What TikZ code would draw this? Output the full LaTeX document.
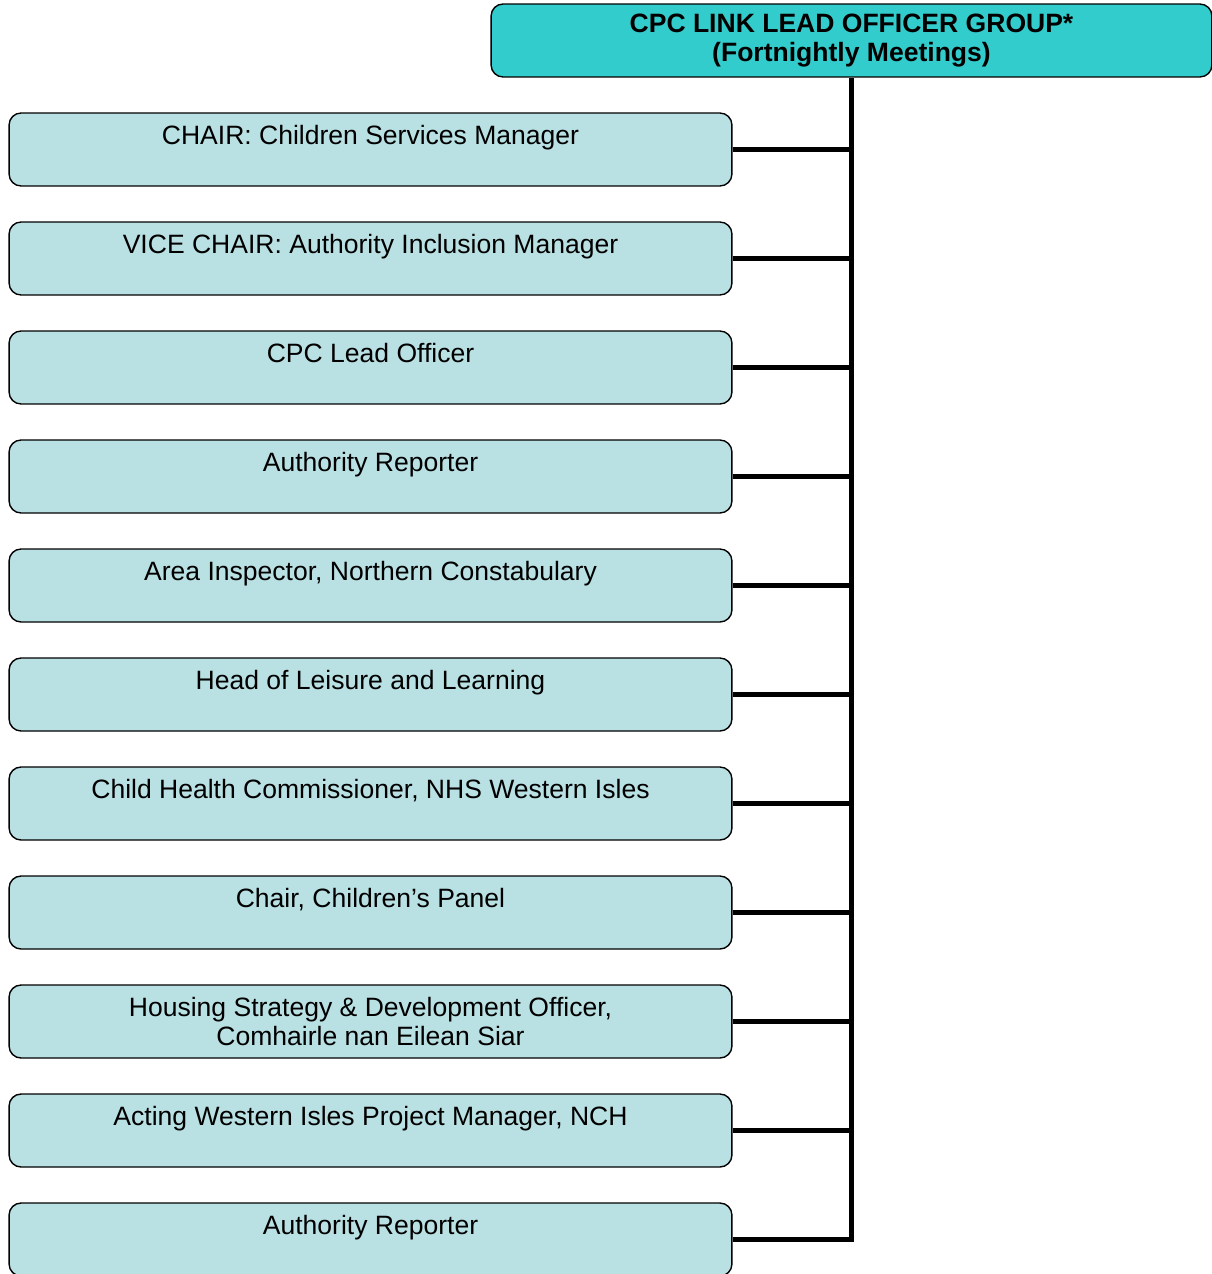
\documentclass[tikz,border=0pt]{standalone}
\usepackage{fontspec}
\setmainfont{Liberation Sans}
\definecolor{headfill}{RGB}{51,204,204}
\definecolor{memberfill}{RGB}{185,224,227}

\tikzset{
    member/.style={draw=black, line width=0.8pt, fill=memberfill, rounded corners=0.24cm,
        minimum width=14.46cm, minimum height=1.46cm, inner sep=0pt, align=center,
        font=\fontsize{15.1}{17}\selectfont},
    head/.style={member, fill=headfill, minimum width=14.42cm,
        font=\fontsize{15.1}{17}\selectfont\bfseries},
    link/.style={line width=2.8pt}
}

\begin{document}
\begin{tikzpicture}[x=0.02cm, y=-0.02cm]

    \useasboundingbox (0,0) rectangle (1212,1274);

    % group box
    \node[head] (head) at (851.5, 40.5) {CPC LINK LEAD OFFICER GROUP*\\(Fortnightly Meetings)};

    % members
    \node[member] (chair)    at (370.5, 149.5)  {CHAIR: Children Services Manager\\~};
    \node[member] (vice)     at (370.5, 258.5)  {VICE CHAIR: Authority Inclusion Manager\\~};
    \node[member] (lead)     at (370.5, 367.5)  {CPC Lead Officer\\~};
    \node[member] (reporter) at (370.5, 476.5)  {Authority Reporter\\~};
    \node[member] (police)   at (370.5, 585.5)  {Area Inspector, Northern Constabulary\\~};
    \node[member] (leisure)  at (370.5, 694.5)  {Head of Leisure and Learning\\~};
    \node[member] (health)   at (370.5, 803.5)  {Child Health Commissioner, NHS Western Isles\\~};
    \node[member] (panel)    at (370.5, 912.5)  {Chair, Children’s Panel\\~};
    \node[member] (housing)  at (370.5, 1021.5) {Housing Strategy \& Development Officer,\\Comhairle nan Eilean Siar};
    \node[member] (nch)      at (370.5, 1130.5) {Acting Western Isles Project Manager, NCH\\~};
    \node[member] (reporterb) at (370.5, 1239.5) {Authority Reporter\\~};

    % connectors
    \draw[link] (head.south) |- (reporterb.east);
    \draw[link] (chair.east) -- (chair.east -| head.south);
    \draw[link] (vice.east) -- (vice.east -| head.south);
    \draw[link] (lead.east) -- (lead.east -| head.south);
    \draw[link] (reporter.east) -- (reporter.east -| head.south);
    \draw[link] (police.east) -- (police.east -| head.south);
    \draw[link] (leisure.east) -- (leisure.east -| head.south);
    \draw[link] (health.east) -- (health.east -| head.south);
    \draw[link] (panel.east) -- (panel.east -| head.south);
    \draw[link] (housing.east) -- (housing.east -| head.south);
    \draw[link] (nch.east) -- (nch.east -| head.south);

\end{tikzpicture}
\end{document}
